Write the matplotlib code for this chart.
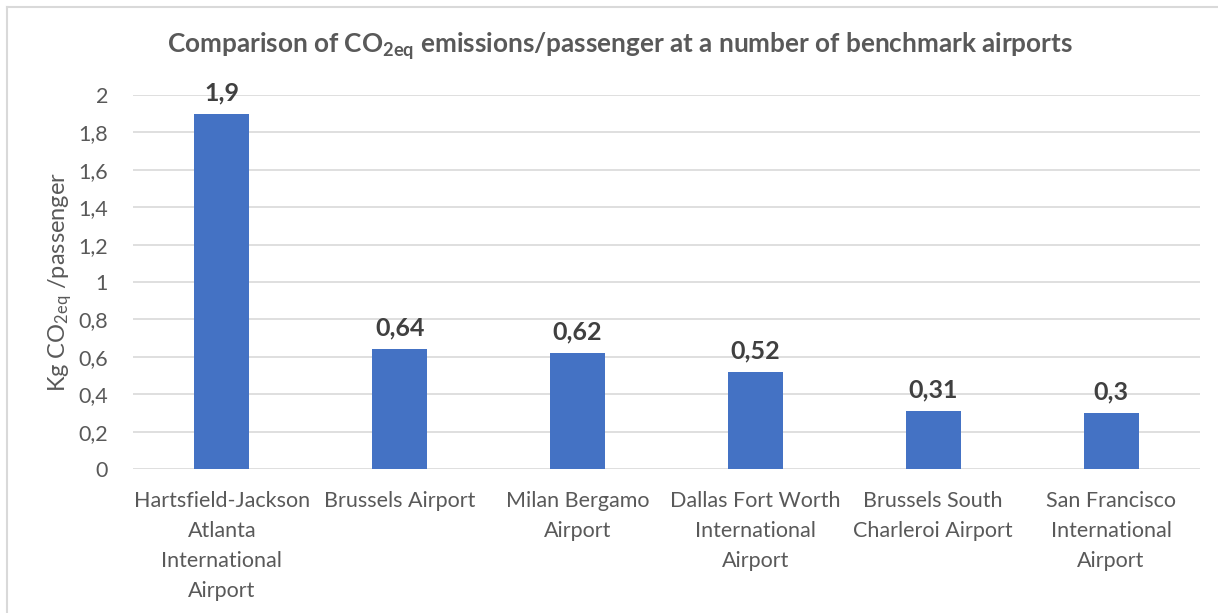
import matplotlib
matplotlib.use("Agg")
import matplotlib.pyplot as plt
from matplotlib.lines import Line2D

airports = ["Hartsfield-Jackson\nAtlanta\nInternational\nAirport",
            "Brussels Airport",
            "Milan Bergamo\nAirport",
            "Dallas Fort Worth\nInternational\nAirport",
            "Brussels South\nCharleroi Airport",
            "San Francisco\nInternational\nAirport"]
emissions = [1.9, 0.64, 0.62, 0.52, 0.31, 0.3]
labels = ["1,9", "0,64", "0,62", "0,52", "0,31", "0,3"]
yticks = [0, 0.2, 0.4, 0.6, 0.8, 1.0, 1.2, 1.4, 1.6, 1.8, 2.0]

plt.rcParams['font.family'] = ['Lato', 'DejaVu Sans']
plt.rcParams['mathtext.fontset'] = 'custom'
plt.rcParams['mathtext.rm'] = 'Lato'
plt.rcParams['mathtext.it'] = 'Lato:italic'
plt.rcParams['mathtext.bf'] = 'Lato:bold'
txt = '#595959'

fig = plt.figure(figsize=(12.18, 6.13), dpi=100)
ax = fig.add_axes([133/1218, 1-469/613, 1067/1218, 374/613])

x = range(len(emissions))
ax.bar(x, emissions, width=0.31, color='#4472C4', zorder=3)
for i, v in enumerate(emissions):
    ax.annotate(labels[i], (i, v), xytext=(0, 7), textcoords='offset points',
                ha='center', va='bottom', fontsize=18, fontweight='bold', color='#404040')

ax.set_xlim(-0.5, len(emissions) - 0.5)
ax.set_ylim(0, 2)
ax.set_yticks(yticks)
ax.set_yticklabels([('%g' % t).replace('.', ',') for t in yticks])
ax.set_xticks(list(x))
ax.set_xticklabels(airports, linespacing=1.62)
ax.tick_params(axis='both', length=0, colors=txt, labelsize=15.5)
ax.tick_params(axis='x', pad=16)
ax.tick_params(axis='y', pad=18)
ax.grid(axis='y', color='#D9D9D9', linewidth=1.2, zorder=0)
for s in ax.spines.values():
    s.set_visible(False)

ax.set_ylabel(r'Kg CO$\mathrm{_{2eq}}$ /passenger', fontsize=17, color=txt, labelpad=3)
fig.text(0.509, 1-46/613, r'Comparison of CO$\mathbf{_{2eq}}$ emissions/passenger at a number of benchmark airports',
         ha='center', va='center', fontsize=18.8, fontweight='bold', color=txt)

# chart frame
fig.add_artist(Line2D([7/1218, 1], [1-7/613, 1-7/613], color='#D9D9D9', lw=1.5))
fig.add_artist(Line2D([7/1218, 7/1218], [0, 1-7/613], color='#D9D9D9', lw=1.5))

fig.savefig('out.png', dpi=100)
